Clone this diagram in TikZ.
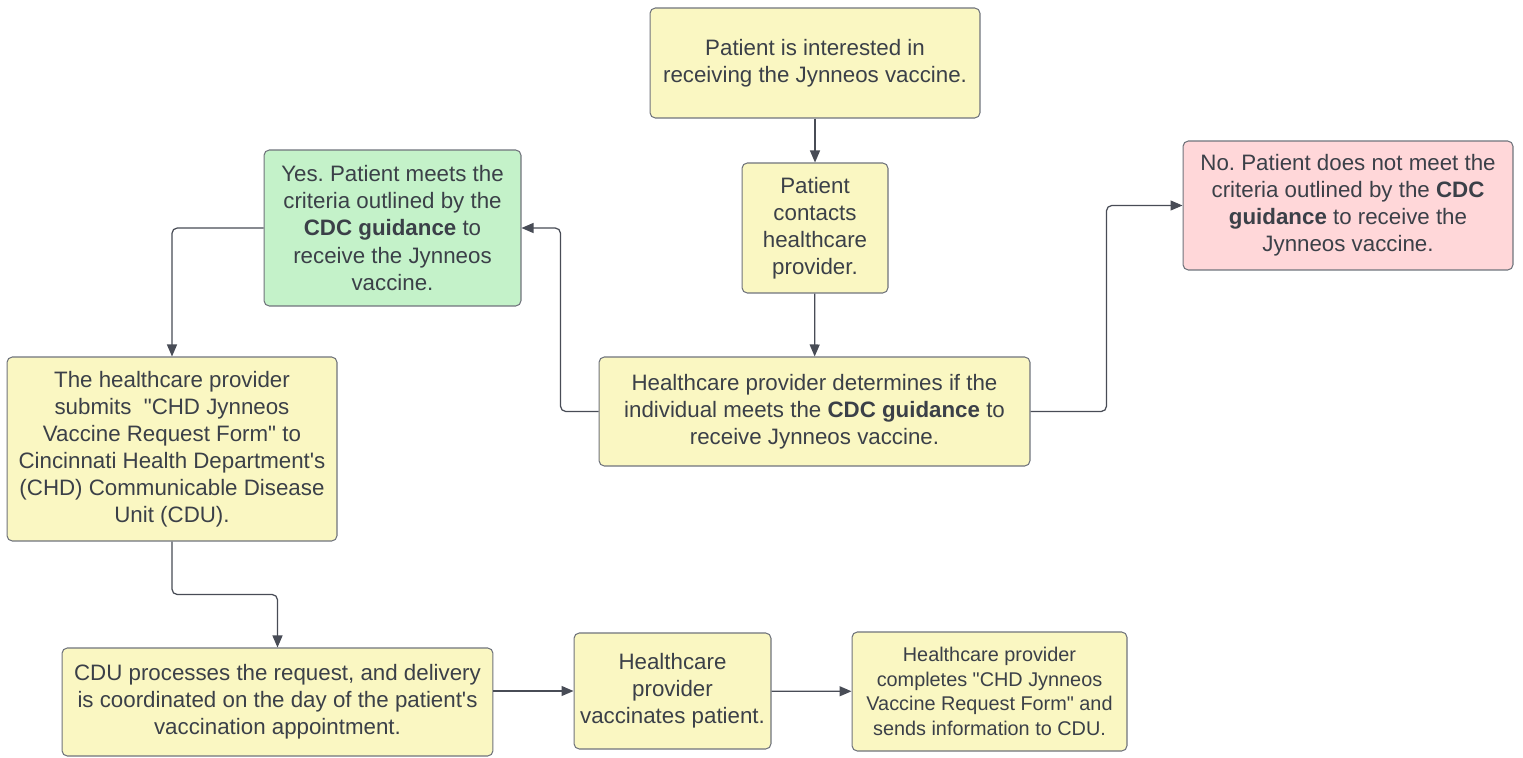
\documentclass[tikz,border=0pt]{standalone}
\usepackage{fontspec}
\setmainfont{Liberation Sans}
\usetikzlibrary{arrows.meta,positioning,calc}
\definecolor{ink}{RGB}{59,64,72}
\definecolor{rim}{RGB}{112,116,124}
\definecolor{wire}{RGB}{72,76,86}
\definecolor{faceY}{RGB}{250,247,194}
\definecolor{faceG}{RGB}{196,242,201}
\definecolor{faceR}{RGB}{255,215,217}
\tikzset{
  stepbox/.style={draw=rim,line width=0.6pt,rounded corners=3pt,fill=faceY,text=ink,
    align=center,inner sep=3pt,font=\fontsize{12.7}{15.4}\selectfont},
  arr/.style={-{Triangle[length=2.4mm,width=2mm]},line width=0.7pt,wire,rounded corners=3pt},
}
\newcommand{\ap}{\textquotesingle}
\newcommand{\qt}{\textquotedbl}
\frenchspacing

\begin{document}
\begin{tikzpicture}[x=0.02cm,y=-0.02cm]
\path[use as bounding box,fill=white] (0,0) rectangle (1523,757);
\node[stepbox,minimum width=6.6cm,minimum height=2.2cm] (top) at (815,63)
  {Patient is interested in\\receiving the Jynneos vaccine.};
\node[stepbox,minimum width=2.92cm,minimum height=2.6cm] (contact) at (815,228)
  {Patient\\contacts\\healthcare\\provider.};
\node[stepbox,minimum width=8.62cm,minimum height=2.18cm] (check) at (814.5,411.5)
  {Healthcare provider determines if the\\individual meets the \textbf{CDC guidance} to\\receive Jynneos vaccine.};
\node[stepbox,fill=faceG,minimum width=5.14cm,minimum height=3.12cm] (yes) at (392.5,228)
  {Yes. Patient meets the\\criteria outlined by the\\\textbf{CDC guidance} to\\receive the Jynneos\\vaccine.};
\node[stepbox,fill=faceR,minimum width=6.6cm,minimum height=2.58cm] (no) at (1348,205.5)
  {No. Patient does not meet the\\criteria outlined by the \textbf{CDC}\\\textbf{guidance} to receive the\\Jynneos vaccine.};
\node[stepbox,minimum width=6.6cm,minimum height=3.68cm] (submit) at (172,449)
  {The healthcare provider\\submits\ \ \qt CHD Jynneos\\Vaccine Request Form\qt\ to\\Cincinnati Health Department\ap s\\(CHD) Communicable Disease\\Unit (CDU).};
\node[stepbox,minimum width=8.62cm,minimum height=2.16cm] (cdu) at (277.5,702)
  {CDU processes the request, and delivery\\is coordinated on the day of the patient\ap s\\vaccination appointment.};
\node[stepbox,minimum width=3.94cm,minimum height=2.32cm] (vacc) at (672.5,691)
  {Healthcare\\provider\\vaccinates patient.};
\node[stepbox,minimum width=5.5cm,minimum height=2.38cm,font=\fontsize{11.3}{14}\selectfont] (send) at (989.5,691.5)
  {Healthcare provider\\completes \qt CHD Jynneos\\Vaccine Request Form\qt\ and\\sends information to CDU.};

\foreach \a/\b in {top/contact,contact/check,vacc/send}{
  \draw[arr] (\a) -- (\b);}
\draw[arr] (check.west) -- ++(-38,0) |- (yes.east);
\draw[arr] (check.east) -- ++(76,0) |- (no.west);
\draw[arr] (yes.west) -| (submit.north);
\draw[arr] (submit.south) -- ++(0,53) -| (cdu.north);
\draw[arr] (cdu.east |- vacc.west) -- (vacc.west);
\end{tikzpicture}
\end{document}
